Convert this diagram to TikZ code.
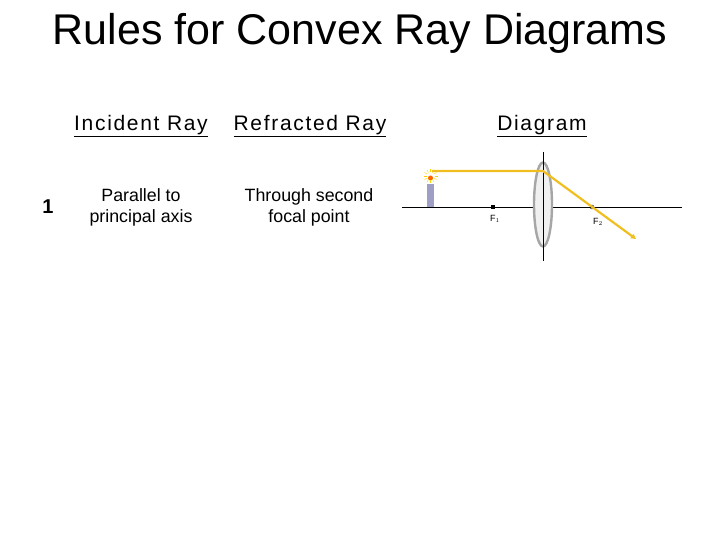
\documentclass[tikz,border=0pt]{standalone}
\usepackage{fontspec}
\setmainfont{Liberation Sans}
\usetikzlibrary{arrows.meta}
\begin{document}
\begin{tikzpicture}[x=1pt,y=-1pt,
  hdr/.style={font=\fontsize{21}{24}\selectfont},
  body/.style={font=\fontsize{17.8}{21}\selectfont,align=center},
  ray/.style={draw={rgb,255:red,240;green,190;blue,30},line width=2.2pt},
  flab/.style={font=\fontsize{9}{10}\selectfont}]
\useasboundingbox (0,0) rectangle (720,540);
\node (title) at (360,33) {\fontsize{43}{48}\selectfont Rules for Convex Ray Diagrams};
\node[hdr] (inc) at (141,126) {\addfontfeature{LetterSpace=8}\underline{Incident Ray}};
\node[hdr] (ref) at (310,126) {\addfontfeature{LetterSpace=8}\underline{Refracted Ray}};
\node[hdr] (dia) at (542,126) {\addfontfeature{LetterSpace=8}\underline{Diagram}};
\node (one) at (48,207) {\fontsize{20}{22}\selectfont\bfseries 1};
\node[body] (par) at (141,207) {Parallel to\\principal axis};
\node[body] (thr) at (309,207) {Through second\\focal point};
% axis and lens
\draw (402,207) -- (682,207);
\draw[gray!70,fill=gray!12,line width=2.4pt] (543,204.5) ellipse (9 and 42);
\draw (543,152) -- (543,261);
% candle
\fill[blue!25!gray!60] (427,184) rectangle (434,207);
\fill[orange!80!red] (430.5,178) circle (2.5);
\foreach \a in {0,30,...,330}{\draw[yellow!70!orange,line width=0.4pt] (430.5,176)++(\a:4) -- ++(\a:3);}
% focal points
\node[fill=black,minimum size=4pt,inner sep=0pt] (f1) at (493,207) {};
\node[draw,circle,minimum size=4pt,inner sep=0pt] (f2) at (592,207) {};
\node[flab] at (495,219) {F$_{1}$};
\node[flab] at (598,222) {F$_{2}$};
% ray
\coordinate (src) at (432,171);
\coordinate (hit) at (543,171);
\coordinate (end) at (636,239);
\draw[ray,-{Triangle[length=5pt,width=5pt]}] (src) -- (hit) -- (end);
\end{tikzpicture}
\end{document}
